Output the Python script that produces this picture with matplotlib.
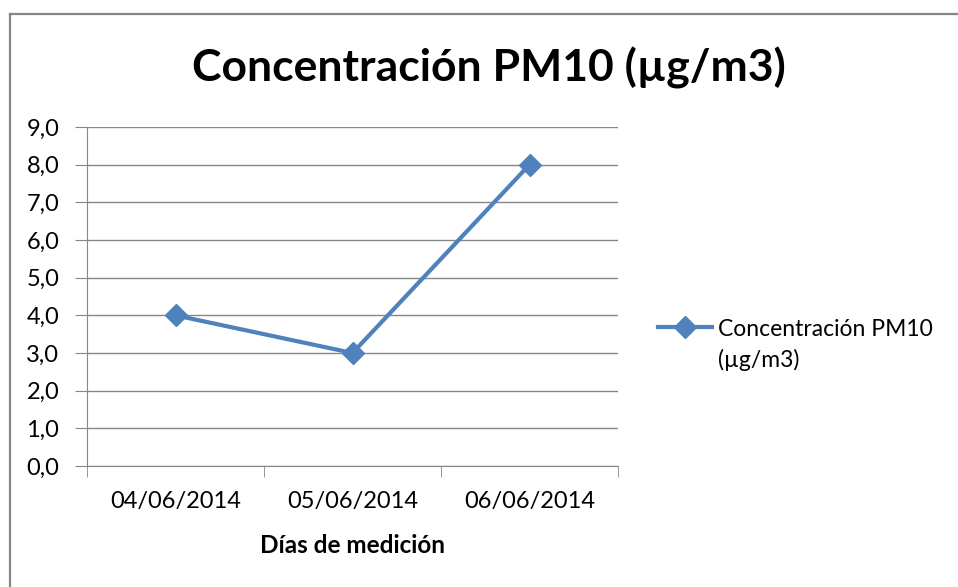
import numpy as np
import matplotlib
matplotlib.use("Agg")
import matplotlib.pyplot as plt
from matplotlib.lines import Line2D

days = ["04/06/2014", "05/06/2014", "06/06/2014"]
pm10 = [4.0, 3.0, 8.0]
yticks = np.arange(0, 10, 1.0)
series_name = "Concentración PM10"
series_unit = "(µg/m3)"

plt.rcParams['font.family'] = ['Lato', 'DejaVu Sans']

W, H = 958, 587
fig = plt.figure(figsize=(W / 100, H / 100), dpi=100)

# outer chart frame (cut off at right/bottom)
fig.add_artist(Line2D([10 / W, 10 / W], [0, 1 - 14 / H], transform=fig.transFigure,
                      color="#868686", lw=1.6))
fig.add_artist(Line2D([10 / W, 1], [1 - 14 / H, 1 - 14 / H], transform=fig.transFigure,
                      color="#868686", lw=1.6))

ax = fig.add_axes([87 / W, 1 - 466 / H, (618 - 87) / W, (466 - 127) / H])
x = np.arange(len(days))
ax.plot(x, pm10, color="#4F81BD", lw=3, marker="D", ms=11, label=series_name,
        clip_on=False, zorder=3)

ax.set_xlim(-0.5, len(days) - 0.5)
ax.set_ylim(0, 9)
ax.set_yticks(yticks)
ax.set_yticklabels([f"{v:.1f}".replace(".", ",") for v in yticks])
ax.set_xticks(x)
ax.set_xticklabels(days)
ax.set_xticks(np.arange(-0.5, len(days), 1), minor=True)
ax.grid(axis="y", color="#868686", lw=1)
ax.set_axisbelow(True)
for s in ["top", "right"]:
    ax.spines[s].set_visible(False)
ax.spines["left"].set_color("#868686")
ax.spines["bottom"].set_color("#868686")
ax.tick_params(axis="y", length=9, color="#868686", labelsize=17, pad=11)
ax.tick_params(axis="x", which="major", length=0, labelsize=17, pad=18)
ax.tick_params(axis="x", which="minor", length=8, color="#868686")

ax.set_xlabel("Días de medición", fontsize=17.5, fontweight="bold", labelpad=16)
fig.text(489 / W, 1 - 68 / H, "Concentración PM10 (µg/m3)", fontsize=32, fontweight="bold",
         ha="center", va="center")

# legend: handle + first line, unit on the line below
leg = ax.legend(loc="center left", bbox_to_anchor=((658 - 87) / 531, (466 - 329) / 339),
                frameon=False, fontsize=16.5, handlelength=2.35, handletextpad=0.26,
                borderaxespad=0, borderpad=0)
fig.text(718 / W, 1 - 360 / H, series_unit, fontsize=16.5, ha="left", va="center")

fig.savefig("out.png", dpi=100)
